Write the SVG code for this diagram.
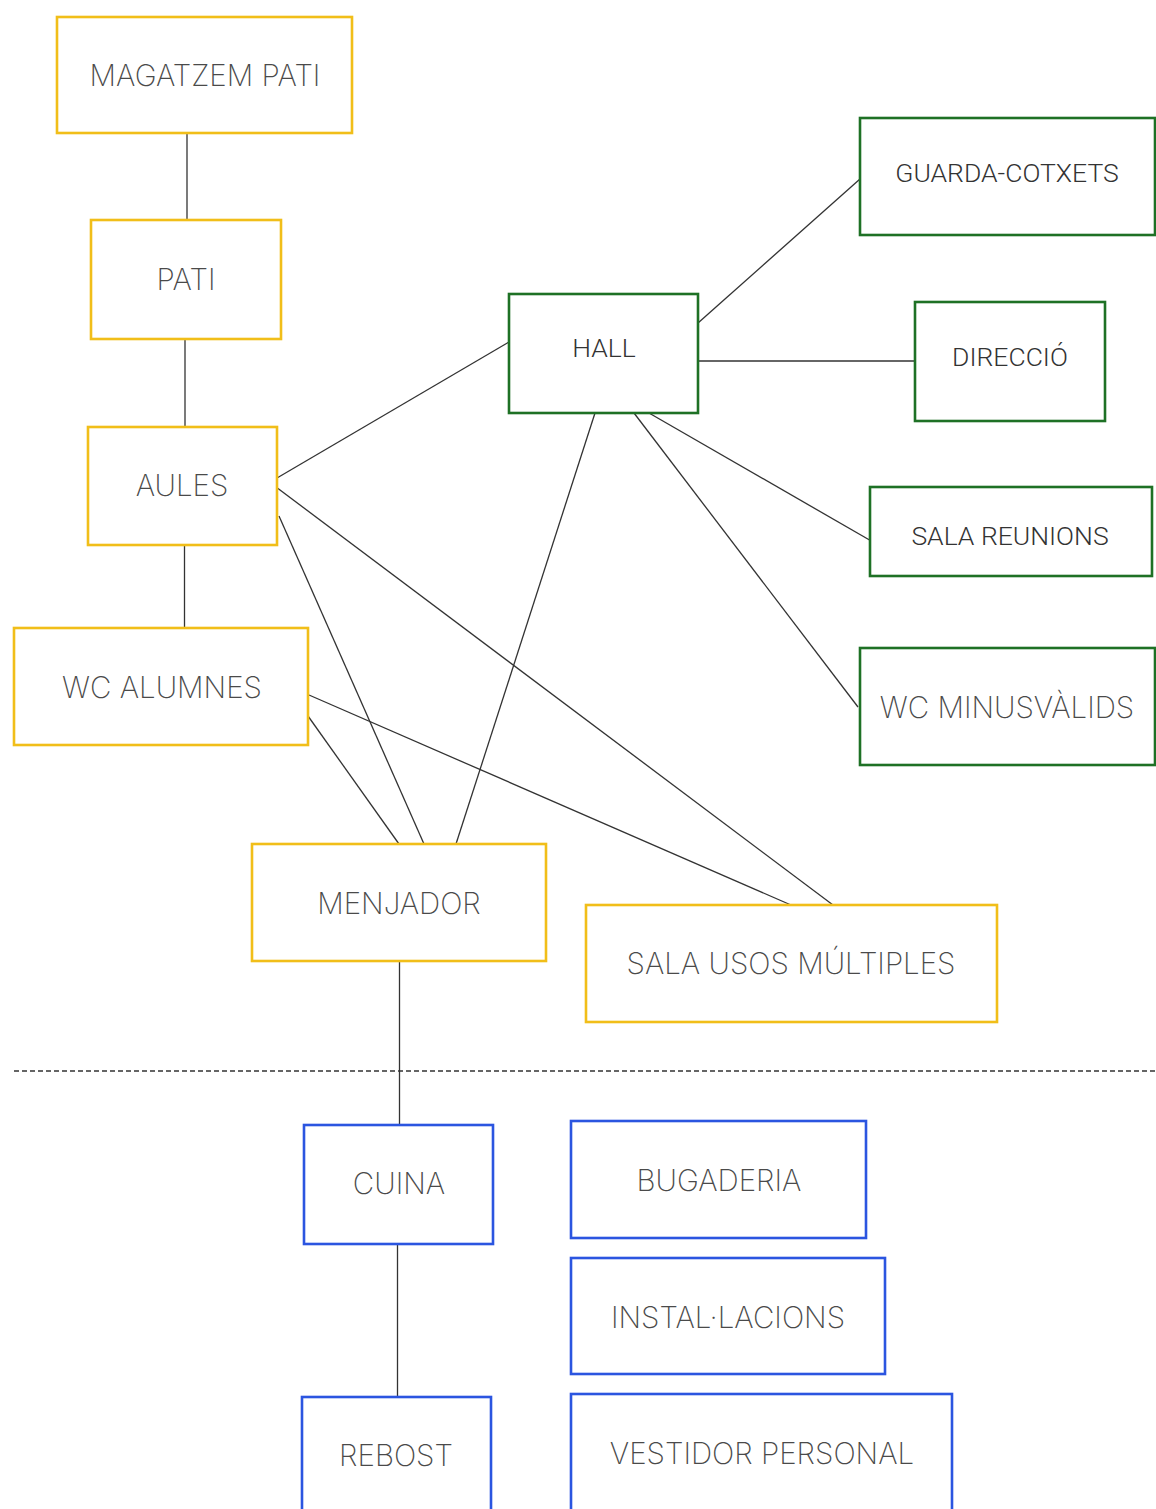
<svg xmlns="http://www.w3.org/2000/svg" width="1156" height="1509" viewBox="0 0 1156 1509">
<style>
.y{fill:#fff;stroke:#F1BE19;stroke-width:2.6}
.g{fill:#fff;stroke:#1E7125;stroke-width:2.6}
.b{fill:#fff;stroke:#2B55E0;stroke-width:2.6}
.t{font-family:Inter,Roboto,"Liberation Sans",sans-serif;font-weight:200;font-size:29.5px;fill:#4a4a4a;text-anchor:middle}
.tg{font-family:Roboto,"Liberation Sans",sans-serif;font-weight:300;font-size:26.5px;fill:#333;text-anchor:middle}
.c line{stroke:#333;stroke-width:1.3}
</style>
<rect width="1156" height="1509" fill="#fff"/>
<g class="c" id="connectors">
<line x1="187" y1="133" x2="187" y2="220"/>
<line x1="185" y1="339" x2="185" y2="427"/>
<line x1="184.5" y1="543" x2="184.5" y2="628"/>
<line x1="277" y1="478" x2="509" y2="342"/>
<line x1="276" y1="487" x2="833" y2="905"/>
<line x1="279" y1="516" x2="424" y2="844"/>
<line x1="309" y1="695" x2="791" y2="905"/>
<line x1="308" y1="716" x2="399" y2="844"/>
<line x1="595" y1="413" x2="456" y2="844"/>
<line x1="698" y1="323" x2="860" y2="179"/>
<line x1="698" y1="361" x2="915" y2="361"/>
<line x1="649" y1="413" x2="873" y2="542"/>
<line x1="634" y1="413" x2="858" y2="707"/>
<line x1="399.5" y1="961" x2="399.5" y2="1125"/>
<line x1="397.5" y1="1244" x2="397.5" y2="1397"/>
<line x1="14" y1="1071" x2="1156" y2="1071" stroke-dasharray="5,3"/>
</g>
<g id="magatzem-pati"><rect class="y" x="57" y="17" width="295" height="116"/><text class="t" x="205" y="86">MAGATZEM PATI</text></g>
<g id="pati"><rect class="y" x="91" y="220" width="190" height="119"/><text class="t" x="186" y="290">PATI</text></g>
<g id="aules"><rect class="y" x="88" y="427" width="189" height="118"/><text class="t" x="182" y="496">AULES</text></g>
<g id="wc-alumnes"><rect class="y" x="14" y="628" width="294" height="117"/><text class="t" x="162" y="698">WC ALUMNES</text></g>
<g id="menjador"><rect class="y" x="252" y="844" width="294" height="117"/><text class="t" x="399" y="914">MENJADOR</text></g>
<g id="sala-usos"><rect class="y" x="586" y="905" width="411" height="117"/><text class="t" x="791" y="974">SALA USOS MÚLTIPLES</text></g>
<g id="hall"><rect class="g" x="509" y="294" width="189" height="119"/><text class="tg" x="604" y="357">HALL</text></g>
<g id="guarda-cotxets"><rect class="g" x="860" y="118" width="295" height="117"/><text class="tg" x="1007" y="182">GUARDA-COTXETS</text></g>
<g id="direccio"><rect class="g" x="915" y="302" width="190" height="119"/><text class="tg" x="1010" y="366">DIRECCIÓ</text></g>
<g id="sala-reunions"><rect class="g" x="870" y="487" width="282" height="89"/><text class="tg" x="1010" y="545">SALA REUNIONS</text></g>
<g id="wc-minusvalids"><rect class="g" x="860" y="648" width="295" height="117"/><text class="t" x="1007" y="718">WC MINUSVÀLIDS</text></g>
<g id="cuina"><rect class="b" x="304" y="1125" width="189" height="119"/><text class="t" x="399" y="1194">CUINA</text></g>
<g id="bugaderia"><rect class="b" x="571" y="1121" width="295" height="117"/><text class="t" x="719" y="1191">BUGADERIA</text></g>
<g id="installacions"><rect class="b" x="571" y="1258" width="314" height="116"/><text class="t" x="728" y="1328">INSTAL·LACIONS</text></g>
<g id="rebost"><rect class="b" x="302" y="1397" width="189" height="119"/><text class="t" x="396" y="1466">REBOST</text></g>
<g id="vestidor-personal"><rect class="b" x="571" y="1394" width="381" height="122"/><text class="t" x="762" y="1464">VESTIDOR PERSONAL</text></g>
</svg>
